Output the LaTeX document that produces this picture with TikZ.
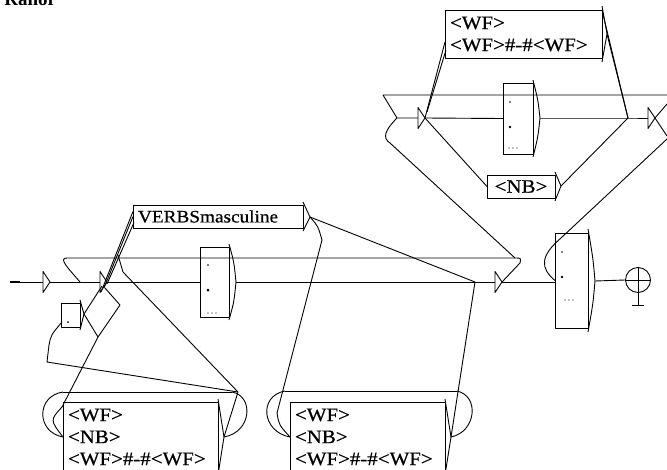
\documentclass[tikz,border=0pt]{standalone}
\usepackage{fontspec}
\setmainfont{Liberation Serif}
\newfontfamily\boxfont{Liberation Serif}[FakeStretch=1.1,FakeBold=0.6]
\usetikzlibrary{calc}
\begin{document}
\begin{tikzpicture}[x=1pt,y=-1pt,line width=0.9pt,line join=round,
  box/.style={draw,inner xsep=5pt,inner ysep=0pt,outer sep=0pt,align=left,font=\boxfont\fontsize{19}{22}\selectfont},
  dotbox/.style={draw,inner sep=0pt,outer sep=0pt},
  tri/.pic={\draw (0,-10.5) -- (7,0) -- (0,10.5) -- cycle; \coordinate (-in) at (0,0); \coordinate (-out) at (7,0);}]
\useasboundingbox (0,0) rectangle (667,469);
\clip (0,0) rectangle (667,469);

% title (cut off at top)
\node[anchor=base west,inner sep=0pt,font=\bfseries\fontsize{19}{22}\selectfont] (title) at (4,5) {Ranor};

% ---------- boxes ----------
\node[box,text width=147pt,minimum height=48pt] (T) at (523.5,34) {<WF>\\<WF>\#-\#<WF>};
\node[box,minimum width=68pt,minimum height=23pt,align=center] (NB) at (521,186.5) {<NB>};
\node[box,text width=160pt,minimum height=23pt,font=\boxfont\fontsize{17.5}{22}\selectfont] (V) at (218,216.5) {VERBSmasculine};
\node[box,text width=145pt,minimum height=70pt] (B1) at (140.5,437) {<WF>\\<NB>\\<WF>\#-\#<WF>};
\node[box,text width=145pt,minimum height=70pt] (B2) at (367.5,437) {<WF>\\<NB>\\<WF>\#-\#<WF>};

\node[dotbox,minimum width=29pt,minimum height=70pt] (M1) at (214.5,282) {};
\node[dotbox,minimum width=30pt,minimum height=71pt] (M2) at (518,118.5) {};
\node[dotbox,minimum width=33pt,minimum height=95pt] (M3) at (571.5,280.5) {};
\node[dotbox,minimum width=19pt,minimum height=24pt] (S) at (70.5,315) {};

% dots inside the dot boxes
\fill (208,265) circle (0.8);  \fill (208,290) circle (1.5);
\foreach \i in {0,4,8} \fill ({208+\i},313) circle (0.7);
\fill (510,102) circle (0.8);  \fill (510,127) circle (1.4);
\foreach \i in {0,4,8} \fill ({509+\i},148) circle (0.7);
\fill (562,252) circle (0.8);  \fill (562,277) circle (1.4);
\foreach \i in {0,4,8} \fill ({565+\i},300) circle (0.7);
\fill (68,322) circle (1.0);

% right bumps of boxes
\coordinate (M1b) at (236,282);
\coordinate (M2b) at (540,118);
\coordinate (M3b) at (595,281);
\coordinate (Sb) at (84,314);
\coordinate (Vb) at (310,217);
\coordinate (Tb) at (607,34);
\coordinate (NBb) at (561,186);
\coordinate (B1b) at (224,437);
\coordinate (B2b) at (451,437);
\draw ($(M1.north east)+(0,-3)$) .. controls (234,262) .. (M1b) .. controls (234,302) .. ($(M1.south east)+(0,3)$);
\draw ($(M2.north east)+(0,-3)$) .. controls (538,100) .. (M2b) .. controls (538,137) .. ($(M2.south east)+(0,3)$);
\draw ($(M3.north east)+(0,-4)$) .. controls (593,258) .. (M3b) .. controls (593,304) .. ($(M3.south east)+(0,4)$);
\draw ($(S.north east)+(0,-3)$) -- (Sb) -- ($(S.south east)+(0,3)$);
\draw ($(V.north east)+(0,-3)$) -- (Vb) -- ($(V.south east)+(0,3)$);
\draw ($(T.north east)+(0,-4)$) -- (Tb) -- ($(T.south east)+(0,4)$);
\draw ($(NB.north east)+(0,-3)$) -- (NBb) -- ($(NB.south east)+(0,3)$);
\draw ($(B1.north east)+(0,-3)$) -- (B1b) -- ($(B1.south east)+(0,3)$);
\draw ($(B2.north east)+(0,-3)$) -- (B2b) -- ($(B2.south east)+(0,3)$);

% ---------- triangles (empty boxes) ----------
\pic (t1) at (43,282) {tri};
\pic (t2) at (100,282) {tri};
\pic (t3) at (495,282) {tri};
\pic (t4) at (418,118) {tri};
\pic (t5) at (648,118) {tri};

% final state
\node[draw,circle,minimum size=25pt,inner sep=0pt] (fin) at (638,280) {};
\coordinate (finfoot) at (638,305);
\draw (fin.north) -- (finfoot);
\draw (fin.west) -- (fin.east);
\draw ($(finfoot)+(-6,0)$) -- ($(finfoot)+(6,0)$);

% ---------- main line ----------
\coordinate (s0) at (10,282);
\draw[line width=2pt] (s0) -- (20,282);
\draw (s0) -- (t1-in);
\draw (t1-out) -- (t2-in);
\draw (t2-out) -- (M1.west);
\draw (M1b) -- (t3-in);
\draw (t3-out) -- (M3.west |- t3-out);
\draw (M3b) -- (fin.west);

% upper long loop
\coordinate (u0) at (80,282);
\coordinate (u2) at (515,258);
\coordinate (u3) at (520,263);
\draw (u0) .. controls (68,268) and (58,258) .. (67,258) -- (u2) .. controls (521,258) .. (u3) -- (t3-out);

% ---------- top group ----------
\coordinate (q0) at (667,95);
\coordinate (q1) at (383,95);
\coordinate (q2) at (397,118);
\coordinate (j1) at (628,118);
\draw (q0) -- (q1) -- (q2) -- (t4-in);
\draw (q2) .. controls (385,130) and (382,138) .. (390,143) -- (u2);
\draw (t4-out) -- (M2.west);
\draw (M2b) -- (j1) -- (t5-in);
\draw (t4-out) -- ($(T.west)+(0,8)$);
\draw ($(t4-out)+(2,-6)$) -- ($(T.west)+(1,16)$);
\draw (T.north east) -- (j1);
\draw (Tb) -- (j1);
\draw (t4-out) -- (NB.west);
\draw (NBb) -- (j1);
\coordinate (e1) at (667,104);
\coordinate (e2) at (667,136);
\coordinate (e3) at (667,139);
\draw (t5-out) -- (e1);
\draw (t5-out) -- (e2);
\draw (e3) -- (561,238) .. controls (540,256) and (540,268) .. (M3.west);

% ---------- VERBSmasculine ----------
\draw ($(t2-in)+(1,10)$) -- ($(V.west)+(0,-5)$);
\draw ($(t2-in)+(4,6)$) -- (V.west);
\draw ($(t2-in)+(7,2)$) -- ($(V.west)+(1,6)$);
\coordinate (v1) at (475,282);
\draw (Vb) -- (v1) -- (B2b);
\coordinate (v2) at (322,240);
\coordinate (v3) at (277,413);
\draw (Vb) .. controls (318,226) .. (v2) -- (v3) .. controls (279,425) .. (B2.west);

% loop on B2
\coordinate (b2l) at (285,391);
\coordinate (b2r) at (457,391);
\draw (b2l) -- (b2r);
\draw (b2l) .. controls (258,396) and (262,432) .. (B2.west);
\draw (b2r) .. controls (480,396) and (476,432) .. (B2b);

% ---------- left part ----------
\coordinate (k0) at (118,255);
\coordinate (k1) at (123,272);
\coordinate (k2) at (238,392);
\draw (k0) -- (k1) -- (k2) -- (B1b);
\draw ($(S.south west)+(1,-5)$) .. controls (51,335) .. (49,345) -- (47,362) -- (k2);
\coordinate (k3) at (98,337);
\draw (Sb) -- ($(t2-in)+(2,4)$);
\draw (Sb) -- (k3);
\draw ($(t2-out)+(-2,6)$) -- (120,305) -- (k3);
\draw (k3) -- (62,407) .. controls (50,420) .. (B1.west);

% loop on B1
\coordinate (b1l) at (63,392);
\coordinate (b1r) at (232,392);
\draw (b1l) -- (b1r);
\draw (b1l) .. controls (36,396) and (36,432) .. (B1.west);
\draw (b1r) .. controls (254,396) and (252,432) .. (B1b);
\end{tikzpicture}
\end{document}
